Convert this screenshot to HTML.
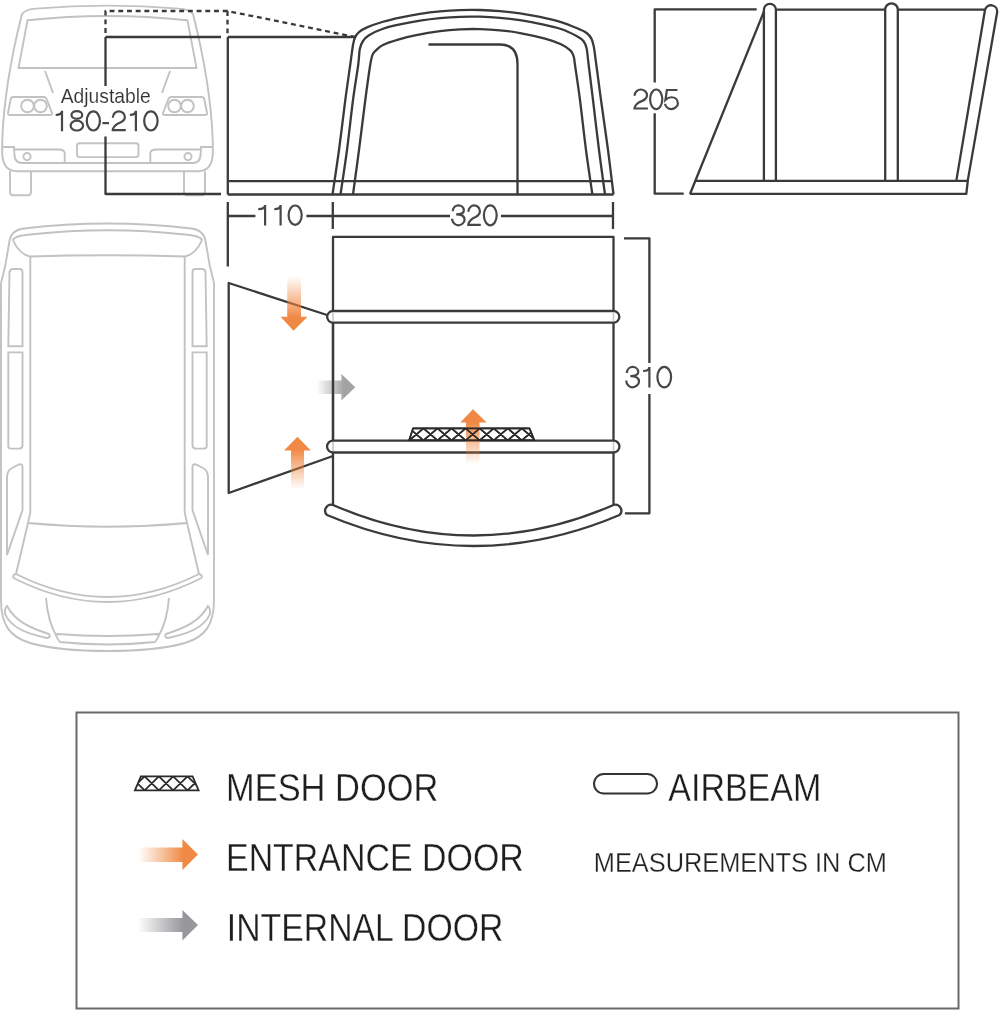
<!DOCTYPE html>
<html><head><meta charset="utf-8"><style>html,body{margin:0;padding:0;background:#fff;}svg{display:block;will-change:transform;}</style></head>
<body><svg width="1000" height="1017" viewBox="0 0 1000 1017"><defs>
<linearGradient id="og1" x1="0" y1="0" x2="0" y2="1"><stop offset="0" stop-color="#f0843c" stop-opacity="0"/><stop offset="0.75" stop-color="#ef7d32" stop-opacity="1"/></linearGradient>
<linearGradient id="og2" x1="0" y1="1" x2="0" y2="0"><stop offset="0" stop-color="#f0843c" stop-opacity="0"/><stop offset="0.75" stop-color="#ef7d32" stop-opacity="1"/></linearGradient>
<linearGradient id="gg1" x1="0" y1="0" x2="1" y2="0"><stop offset="0" stop-color="#999" stop-opacity="0"/><stop offset="0.7" stop-color="#9a9a9a" stop-opacity="1"/></linearGradient>
<linearGradient id="ol" x1="0" y1="0" x2="1" y2="0"><stop offset="0" stop-color="#f0843c" stop-opacity="0"/><stop offset="0.75" stop-color="#ef7d32" stop-opacity="1"/></linearGradient>
<linearGradient id="gl" x1="0" y1="0" x2="1" y2="0"><stop offset="0" stop-color="#8a8a90" stop-opacity="0"/><stop offset="0.75" stop-color="#8c8c92" stop-opacity="1"/></linearGradient>
<filter id="soft" x="-20%" y="-20%" width="140%" height="140%"><feGaussianBlur stdDeviation="0.45"/></filter>
</defs><rect width="1000" height="1017" fill="#fff"/><g fill="none" stroke="#c2c2c2" stroke-width="1.9"><path d="M22,14 Q26,9 36,8.6 Q107.5,2.6 179,8.6 Q189,9 193,14 Q211,85 212.8,142 L212.8,152 Q212.8,171.2 198,171.2 L17,171.2 Q2.2,171.2 2.2,152 L2.2,142 Q4,85 22,14 Z"/><path d="M27.5,20.3 Q107.5,11.7 187.5,20.3 L196.5,68 L18.5,68 Z"/><path d="M45,71 L53,93 M170,71 L162,93"/><path d="M13.0,97 L44.0,97 Q46.0,97 47.0,100 L52.0,113 Q52.5,115 50.0,115 L10.0,115 Q7.5,115 8.0,113 L10.5,100 Q11.0,97 13.0,97 Z"/><circle cx="27.5" cy="106" r="6.3"/><circle cx="40.5" cy="106" r="6.3"/><path d="M2.5,147 L14.0,147 L14.5,156 Q15.5,163 22.0,163 L64.7,163 L64.7,153 Q64.0,149.5 59.0,149.5 L15.0,149.5"/><circle cx="27.0" cy="156.6" r="3.6"/><path d="M10.0,171.2 L10.0,192 Q10.0,195.2 13.0,195.2 L28.0,195.2 Q31.0,195.2 31.0,192 L31.0,171.2"/><path d="M202.0,97 L171.0,97 Q169.0,97 168.0,100 L163.0,113 Q162.5,115 165.0,115 L205.0,115 Q207.5,115 207.0,113 L204.5,100 Q204.0,97 202.0,97 Z"/><circle cx="187.5" cy="106" r="6.3"/><circle cx="174.5" cy="106" r="6.3"/><path d="M212.5,147 L201.0,147 L200.5,156 Q199.5,163 193.0,163 L150.3,163 L150.3,153 Q151.0,149.5 156.0,149.5 L200.0,149.5"/><circle cx="188.0" cy="156.6" r="3.6"/><path d="M205.0,171.2 L205.0,192 Q205.0,195.2 202.0,195.2 L187.0,195.2 Q184.0,195.2 184.0,192 L184.0,171.2"/><path d="M64.7,163 L150.3,163"/><rect x="77" y="143.3" width="61.5" height="13.8" rx="2.5"/></g>
<g fill="none" stroke="#c2c2c2" stroke-width="1.9"><path d="M9,244 Q10,230 24,228.5 Q107.5,218.5 191,228.5 Q205,230 206,244 L209.8,266 L214,283 L214,600 C214,625 205,637 185,643 C160,650 130,651 107.5,651 C85,651 55,650 30,643 C10,637 1,625 1,600 L1,283 L5.2,266 Z"/><path d="M13,240 Q14,236 30,234.5 Q107.5,226 185,234.5 Q201,236 202,240 Q196,254 185,256.5 Q107.5,254 30,256.5 Q19,254 13,240 Z"/><path d="M30.3,256.5 L30.3,512.4 L28,523 Q107.5,530.5 187,523 L184.7,512.4 L184.7,256.5"/><path d="M8.3,346.3 L9.5,272 Q10.0,269 13.0,269 L19.5,269 Q22.5,269 22.5,272 L22.5,346.3 Z"/><path d="M8.3,352.4 L22.5,352.4 L22.5,446 Q22.0,448.6 19.0,448.6 L11.0,448.6 Q8.3,448.6 8.3,446 Z"/><path d="M7.0,555 L7.0,477 Q7.5,470 12.0,468 L19.0,464.5 Q22.5,463.5 22.5,467 L22.5,510 Z"/><path d="M28.0,523 L16.0,574"/><path d="M7.0,606 C15.0,621 30.0,628 49.0,634 Q51.0,637.5 47.0,638 C28.0,634 11.0,628 5.0,614 Q4.5,608 7.0,606 Z"/><path d="M46.0,598 Q48.0,622 56.5,636"/><path d="M206.7,346.3 L205.5,272 Q205.0,269 202.0,269 L195.5,269 Q192.5,269 192.5,272 L192.5,346.3 Z"/><path d="M206.7,352.4 L192.5,352.4 L192.5,446 Q193.0,448.6 196.0,448.6 L204.0,448.6 Q206.7,448.6 206.7,446 Z"/><path d="M208.0,555 L208.0,477 Q207.5,470 203.0,468 L196.0,464.5 Q192.5,463.5 192.5,467 L192.5,510 Z"/><path d="M187.0,523 L199.0,574"/><path d="M208.0,606 C200.0,621 185.0,628 166.0,634 Q164.0,637.5 168.0,638 C187.0,634 204.0,628 210.0,614 Q210.5,608 208.0,606 Z"/><path d="M169.0,598 Q167.0,622 158.5,636"/><path d="M57,634 Q107.5,638 158,634 Q160,636 155,642 Q107.5,647 60,642 Q55,636 57,634 Z"/><path d="M16,574 Q107.5,620 199,574 M13.5,578 Q107.5,626 201.5,578 M16,574 Q12,575 13.5,578 M199,574 Q203,575 201.5,578"/></g>
<g fill="none" stroke="#3a3a3a" stroke-width="2.3" stroke-linejoin="round"><path d="M105.5,33 V11 H227.5 L355,37 M227.5,11 V35" stroke-dasharray="4.9 3.8"/><path d="M105.5,37 H221 M105.5,37 V86 M105.5,136.4 V194 H221"/><path d="M227.8,37 V194.5 M227.8,37 H355 M227.8,181.2 H611 M227.8,194.5 H613.5"/><path d="M332.50,194.50 C333.58,187.08 336.87,165.75 339.00,150.00 C341.13,134.25 343.43,114.17 345.30,100.00 C347.17,85.83 348.92,74.17 350.20,65.00 C351.48,55.83 352.20,49.58 353.00,45.00 C353.80,40.42 354.00,39.63 355.00,37.50 C356.00,35.37 357.00,33.88 359.00,32.20 C361.00,30.52 363.00,29.14 367.00,27.40 C371.00,25.66 377.50,23.40 383.00,21.76 C388.50,20.13 393.83,18.91 400.00,17.60 C406.17,16.28 413.33,14.91 420.00,13.87 C426.67,12.83 433.33,12.01 440.00,11.38 C446.67,10.75 453.33,10.33 460.00,10.10 C466.67,9.87 473.33,9.84 480.00,10.01 C486.67,10.18 493.33,10.54 500.00,11.11 C506.67,11.68 513.33,12.44 520.00,13.42 C526.67,14.39 533.17,15.52 540.00,16.96 C546.83,18.39 554.83,20.17 561.00,22.04 C567.17,23.91 572.73,26.37 577.00,28.20 C581.27,30.03 584.20,31.27 586.60,33.00 C589.00,34.73 590.20,36.33 591.40,38.60 C592.60,40.87 593.07,42.87 593.80,46.60 C594.53,50.33 594.60,52.10 595.80,61.00 C597.00,69.90 598.97,85.17 601.00,100.00 C603.03,114.83 605.92,134.25 608.00,150.00 C610.08,165.75 612.58,187.08 613.50,194.50"/><path d="M340.50,194.50 C341.58,187.08 344.92,165.75 347.00,150.00 C349.08,134.25 351.13,114.17 353.00,100.00 C354.87,85.83 357.07,73.50 358.20,65.00 C359.33,56.50 359.00,53.00 359.80,49.00 C360.60,45.00 361.53,43.27 363.00,41.00 C364.47,38.73 365.27,37.45 368.60,35.40 C371.93,33.35 377.77,30.54 383.00,28.72 C388.23,26.89 393.83,25.80 400.00,24.46 C406.17,23.11 413.33,21.71 420.00,20.65 C426.67,19.59 433.33,18.75 440.00,18.11 C446.67,17.47 453.33,17.03 460.00,16.80 C466.67,16.57 473.33,16.54 480.00,16.71 C486.67,16.88 493.33,17.26 500.00,17.84 C506.67,18.42 513.33,19.20 520.00,20.19 C526.67,21.19 533.17,22.34 540.00,23.80 C546.83,25.27 554.83,26.93 561.00,29.00 C567.17,31.06 573.27,34.20 577.00,36.20 C580.73,38.20 581.80,39.00 583.40,41.00 C585.00,43.00 585.80,44.87 586.60,48.20 C587.40,51.53 587.13,52.37 588.20,61.00 C589.27,69.63 591.20,85.17 593.00,100.00 C594.80,114.83 597.00,134.25 599.00,150.00 C601.00,165.75 604.00,187.08 605.00,194.50"/><path d="M353.00,194.50 C354.00,187.08 356.95,165.75 359.00,150.00 C361.05,134.25 363.43,114.17 365.30,100.00 C367.17,85.83 368.98,72.57 370.20,65.00 C371.42,57.43 371.53,57.13 372.60,54.60 C373.67,52.07 374.87,51.40 376.60,49.80 C378.33,48.20 379.27,46.73 383.00,45.00 C386.73,43.27 393.67,41.04 399.00,39.44 C404.33,37.84 408.17,36.78 415.00,35.39 C421.83,34.00 432.50,32.09 440.00,31.08 C447.50,30.07 453.33,29.67 460.00,29.34 C466.67,29.00 473.33,28.92 480.00,29.08 C486.67,29.24 493.33,29.64 500.00,30.30 C506.67,30.96 512.50,31.64 520.00,33.02 C527.50,34.40 538.17,36.74 545.00,38.60 C551.83,40.47 556.73,42.20 561.00,44.20 C565.27,46.20 568.47,48.47 570.60,50.60 C572.73,52.73 573.07,54.60 573.80,57.00 C574.53,59.40 573.97,57.83 575.00,65.00 C576.03,72.17 578.17,85.83 580.00,100.00 C581.83,114.17 583.93,134.25 586.00,150.00 C588.07,165.75 591.33,187.08 592.40,194.50"/><path d="M428.5,44.5 H500 Q517.5,44.5 517.5,64 V194.5"/><path d="M227.8,202 V266.5 M227.8,216 H255.4 M306.4,216 H450 M501,216 H613 M332.8,202 V229 M613,202 V229"/><path d="M756.7,9.4 H654.7 V82.4 M654.7,113.2 V193.7 H683.7"/><path d="M690,194 L764,11.5"/><path d="M776,9.6 H885.2 M897.8,9.6 H985"/><path d="M690,193.9 H966.3 L967.8,180.9 H695.5"/><path d="M763.9,180.9 V9.8 A6,6 0 0 1 775.9,9.8 V180.9"/><path d="M885.2,180.9 V9.6 A6.3,6.3 0 0 1 897.8,9.6 V180.9"/><path d="M956.3,180.9 L985,10 A6.2,6.2 0 0 1 997.2,12 L967.7,180.9"/><path d="M333,311 V236.8 H613.5 V311 M333,322.7 V440.6 M613.5,322.7 V440.6 M333,452.5 V505 M613.5,452.5 V505"/><path d="M333.0,311.0 H613.5 A5.85,5.85 0 0 1 613.5,322.7 H333 A5.85,5.85 0 0 1 333,311.0 Z"/><path d="M333.0,440.6 H613.5 A5.95,5.95 0 0 1 613.5,452.5 H333 A5.95,5.95 0 0 1 333,440.6 Z"/><path d="M333,505 Q473.5,566 613.5,505 A6,6 0 0 1 619.5,515 Q473.5,577 327,515 A6,6 0 0 1 333,505 Z"/><path d="M327,315 L228.7,283 V493 L333,456"/><path d="M624,238.4 H649.4 V363 M649.4,394 V513.3 H624.9"/></g>
<g fill="none" stroke="#2a2a2a" stroke-width="1.6" stroke-linejoin="round"><clipPath id="mc1"><polygon points="409.1,440.3 413.0,428.4 529.5,428.4 534.4,440.3"/></clipPath><path clip-path="url(#mc1)" d="M409.40,428.40 L423.45,440.30 L437.50,428.40 L451.55,440.30 L465.60,428.40 L479.65,440.30 L493.70,428.40 L507.75,440.30 L521.80,428.40 L535.85,440.30 L549.90,428.40 M409.40,440.30 L423.45,428.40 L437.50,440.30 L451.55,428.40 L465.60,440.30 L479.65,428.40 L493.70,440.30 L507.75,428.40 L521.80,440.30 L535.85,428.40 L549.90,440.30"/><polygon points="409.1,440.3 413.0,428.4 529.5,428.4 534.4,440.3"/></g>
<g stroke="#c8c8c8" stroke-width="1.6"><path d="M333,312.5 V321.2 M613.5,312.5 V321.2 M333,442 V451 M613.5,442 V451"/></g>
<g filter="url(#soft)" opacity="0.9"><path fill="url(#og1)" d="M287.2,276 H301 V316.8 H307.5 L293.5,330.8 L280.5,316.8 H287.2 Z"/><path fill="url(#og2)" d="M291,489.6 H304 V450.4 H310.8 L297.5,436.7 L284,450.4 H291 Z"/><path fill="url(#og2)" d="M466,464.5 H479.5 V422.5 H486.7 L473,409.3 L460.3,422.5 H466 Z"/><path fill="url(#gg1)" d="M316.6,380.6 H341.4 V373.9 L355.3,387.3 L341.4,400.5 V394.1 H316.6 Z"/><path fill="url(#ol)" d="M138,847.6 H182.4 V839 L198,854.6 L182.4,870 V862 H138 Z"/><path fill="url(#gl)" d="M138,918 H182.4 V910 L198,925 L182.4,940.4 V932 H138 Z"/></g>
<g fill="none" stroke="#3a3a3a" stroke-width="2.3"><path d="M333,322.7 V440.6"/></g>
<g fill="none" stroke="#2a2a2a" stroke-width="1.6" stroke-linejoin="round"><clipPath id="mc2"><polygon points="409.1,440.3 413.0,428.4 529.5,428.4 534.4,440.3"/></clipPath><path clip-path="url(#mc2)" d="M409.40,428.40 L423.45,440.30 L437.50,428.40 L451.55,440.30 L465.60,428.40 L479.65,440.30 L493.70,428.40 L507.75,440.30 L521.80,428.40 L535.85,440.30 L549.90,428.40 M409.40,440.30 L423.45,428.40 L437.50,440.30 L451.55,428.40 L465.60,440.30 L479.65,428.40 L493.70,440.30 L507.75,428.40 L521.80,440.30 L535.85,428.40 L549.90,440.30"/><polygon points="409.1,440.3 413.0,428.4 529.5,428.4 534.4,440.3"/></g>
<g fill="none" stroke="#2a2a2a" stroke-width="1.8"><rect x="76.5" y="712.5" width="882" height="296" fill="none" stroke="#6a6a6a" stroke-width="2"/><clipPath id="mc3"><polygon points="134.9,790.3 140.9,776.4 192.6,776.4 198.6,790.3"/></clipPath><path clip-path="url(#mc3)" d="M130.30,776.40 L144.60,790.30 L158.90,776.40 L173.20,790.30 L187.50,776.40 L201.80,790.30 M130.30,790.30 L144.60,776.40 L158.90,790.30 L173.20,776.40 L187.50,790.30 L201.80,776.40"/><polygon points="134.9,790.3 140.9,776.4 192.6,776.4 198.6,790.3"/><rect x="594" y="774" width="63" height="19.5" rx="9.75" fill="none" stroke="#333" stroke-width="2"/></g>
<g fill="none" stroke="#474747" stroke-width="2.2" stroke-linecap="butt"><path d="M258.30,209.20 C261.80,209.20 265.10,208.00 265.10,205.06 V225.60"/><path d="M274.30,209.20 C277.80,209.20 280.60,208.00 280.60,205.06 V225.60"/><ellipse cx="295.15" cy="215.15" rx="6.55" ry="9.65"/><path d="M452.69,211.29 C452.98,206.85 456.22,205.30 458.35,205.30 C461.07,205.30 463.86,207.08 463.86,210.41 C463.86,212.97 460.19,214.30 456.15,214.30 M456.15,214.30 C461.37,214.30 464.60,215.85 464.60,219.63 C464.60,223.08 460.92,225.30 458.35,225.30 C455.63,225.30 452.10,222.64 452.10,218.64"/><path d="M468.40,211.84 C468.40,207.48 471.75,205.30 474.10,205.30 C476.86,205.30 479.90,207.48 479.90,211.40 C479.90,215.11 476.45,216.64 472.72,218.38 C469.96,220.56 468.30,222.74 468.30,224.90 L480.80,224.90"/><ellipse cx="490.30" cy="215.30" rx="6.40" ry="10.00"/><path d="M626.80,373.00 C627.10,368.48 630.40,366.90 632.60,366.90 C635.40,366.90 638.25,368.71 638.25,372.10 C638.25,374.73 634.50,376.08 630.35,376.08 M630.35,376.08 C635.70,376.08 639.00,377.66 639.00,381.51 C639.00,385.04 635.25,387.30 632.60,387.30 C629.80,387.30 626.20,384.59 626.20,380.52"/><path d="M643.10,371.00 C646.60,371.00 649.40,369.80 649.40,366.96 V387.60"/><ellipse cx="664.25" cy="377.10" rx="6.85" ry="10.20"/><path d="M634.60,95.86 C634.60,91.62 638.17,89.50 640.75,89.50 C643.77,89.50 647.00,91.62 647.00,95.44 C647.00,99.04 643.33,100.52 639.28,102.22 C636.26,104.34 634.50,106.46 634.50,108.50 L647.90,108.50"/><ellipse cx="656.20" cy="99.30" rx="6.10" ry="9.80"/><path d="M677.45,90.00 L666.90,90.00 L665.40,100.01 C667.35,98.09 669.90,97.24 671.50,97.24 C674.90,97.24 677.90,99.58 677.90,103.63 C677.90,106.54 674.30,109.10 671.20,109.10 C668.40,109.10 665.10,106.54 665.10,103.78"/><path d="M55.70,115.00 C59.20,115.00 62.00,113.80 62.00,110.86 V131.30"/><ellipse cx="76.85" cy="114.90" rx="5.38" ry="3.85"/><ellipse cx="76.85" cy="125.60" rx="6.25" ry="4.90"/><ellipse cx="93.35" cy="120.90" rx="6.55" ry="9.60"/><path d="M102.40,123.10 H109.00"/><path d="M112.80,117.63 C112.80,113.41 116.30,111.30 118.80,111.30 C121.73,111.30 124.90,113.41 124.90,117.21 C124.90,120.80 121.30,122.27 117.36,123.96 C114.43,126.07 112.70,128.18 112.70,130.20 L125.80,130.20"/><path d="M129.90,115.00 C133.40,115.00 135.90,113.80 135.90,110.86 V131.30"/><ellipse cx="150.90" cy="120.90" rx="6.70" ry="9.60"/></g>
<g font-family="'Liberation Sans', sans-serif" stroke="#fff" paint-order="fill stroke"><text x="0" y="0" transform="translate(60.75,103.00) scale(0.9460,1)" font-size="20.376" fill="#333" stroke-width="0.123">Adjustable</text><text x="0" y="0" transform="translate(226.00,801.12) scale(0.8992,1)" font-size="38.300" fill="#1e1e1e" stroke-width="0.316">MESH DOOR</text><text x="0" y="0" transform="translate(226.00,871.12) scale(0.8859,1)" font-size="38.300" fill="#1e1e1e" stroke-width="0.319">ENTRANCE DOOR</text><text x="0" y="0" transform="translate(226.75,941.48) scale(0.8829,1)" font-size="38.300" fill="#1e1e1e" stroke-width="0.319">INTERNAL DOOR</text><text x="0" y="0" transform="translate(668.25,800.83) scale(0.8955,1)" font-size="38.000" fill="#1e1e1e" stroke-width="0.317">AIRBEAM</text><text x="0" y="0" transform="translate(593.75,871.65) scale(0.9352,1)" font-size="27.147" fill="#222" stroke-width="0.259">MEASUREMENTS IN CM</text></g></svg></body></html>
